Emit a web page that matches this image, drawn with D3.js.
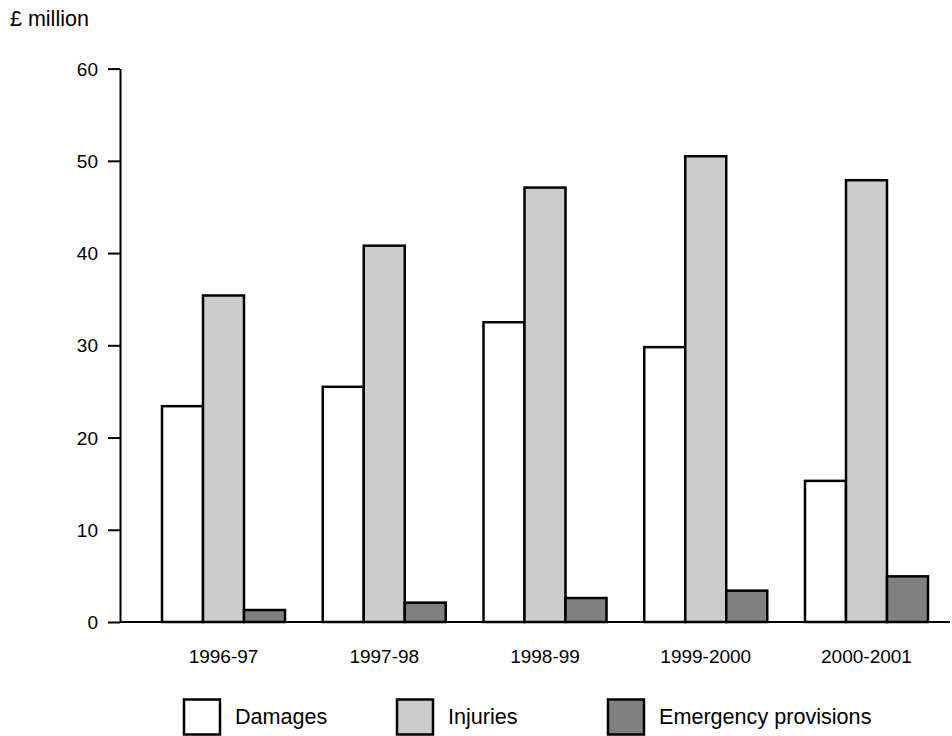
<!DOCTYPE html>
<html>
<head>
<meta charset="utf-8">
<script src="https://cdn.jsdelivr.net/npm/d3@7"></script>
<style>
  html, body { margin: 0; padding: 0; background: #ffffff; }
  svg { display: block; }
  text { font-family: "Liberation Sans", Arial, Helvetica, sans-serif; fill: #000; }
</style>
</head>
<body>
<svg id="chart" width="952" height="736"></svg>
<script>
// ---- data ----
const categories = ["1996-97", "1997-98", "1998-99", "1999-2000", "2000-2001"];
const seriesNames = ["Damages", "Injuries", "Emergency provisions"];
const damages = [23.4, 25.5, 32.5, 29.8, 15.3];
const injuries = [35.4, 40.8, 47.1, 50.5, 47.9];
const emergency = [1.3, 2.1, 2.6, 3.4, 4.95];
const yTicks = [0, 10, 20, 30, 40, 50, 60];
const unitLabel = "£ million";

const seriesValues = [damages, injuries, emergency];
const colors = ["#ffffff", "#cccccc", "#808080"];

const svg = d3.select("#chart");

const x0 = d3.scaleBand()
  .domain(categories)
  .range([120, 970])
  .paddingInner(0.2348)
  .paddingOuter(0.2613);

const x1 = d3.scaleBand()
  .domain(seriesNames)
  .range([0, x0.bandwidth()]);

const y = d3.scaleLinear()
  .domain([0, 60])
  .range([622, 68.6]);

const color = d3.scaleOrdinal().domain(seriesNames).range(colors);

// unit label
svg.append("text")
  .attr("x", 10)
  .attr("y", 26)
  .style("font-size", "21.5px")
  .text(unitLabel);

// bars
const rows = categories.map((c, i) => ({
  cat: c,
  vals: seriesNames.map((s, j) => ({ s, v: seriesValues[j][i] }))
}));

const groups = svg.append("g").selectAll("g")
  .data(rows)
  .join("g")
  .attr("transform", d => `translate(${x0(d.cat)},0)`);

groups.selectAll("rect")
  .data(d => d.vals)
  .join("rect")
  .attr("x", d => x1(d.s))
  .attr("width", x1.bandwidth())
  .attr("y", d => y(d.v))
  .attr("height", d => y(0) - y(d.v))
  .attr("fill", d => color(d.s))
  .attr("stroke", "#000")
  .attr("stroke-width", 2.5);

// y axis
const yAxis = svg.append("g")
  .attr("transform", "translate(120,0)")
  .call(d3.axisLeft(y).tickValues(yTicks).tickSize(12).tickSizeOuter(0).tickPadding(10));
yAxis.select(".domain").attr("stroke", "#000").attr("stroke-width", 2);
yAxis.selectAll(".tick line").attr("stroke", "#000").attr("stroke-width", 2);
yAxis.selectAll(".tick text")
  .style("font-size", "19px")
  .style("font-family", "'Liberation Sans', Arial, sans-serif")
  .attr("dy", "0.34em");

// baseline
svg.append("line")
  .attr("x1", 120).attr("x2", 950)
  .attr("y1", y(0)).attr("y2", y(0))
  .attr("stroke", "#000")
  .attr("stroke-width", 2);

// x axis labels
const xAxis = svg.append("g")
  .attr("transform", `translate(0,${y(0)})`)
  .call(d3.axisBottom(x0).tickSize(0).tickPadding(0));
xAxis.select(".domain").remove();
xAxis.selectAll(".tick text")
  .attr("y", 41)
  .attr("dy", 0)
  .style("font-size", "19px")
  .style("font-family", "'Liberation Sans', Arial, sans-serif");

// legend
const legendX = [184, 397, 608];
const legend = svg.append("g").selectAll("g")
  .data(seriesNames)
  .join("g")
  .attr("transform", (d, i) => `translate(${legendX[i]},699.5)`);
legend.append("rect")
  .attr("width", 36).attr("height", 35)
  .attr("fill", d => color(d))
  .attr("stroke", "#000")
  .attr("stroke-width", 2.5);
legend.append("text")
  .attr("x", 51)
  .attr("y", 24.5)
  .style("font-size", "21.6px")
  .text(d => d);
</script>
</body>
</html>
